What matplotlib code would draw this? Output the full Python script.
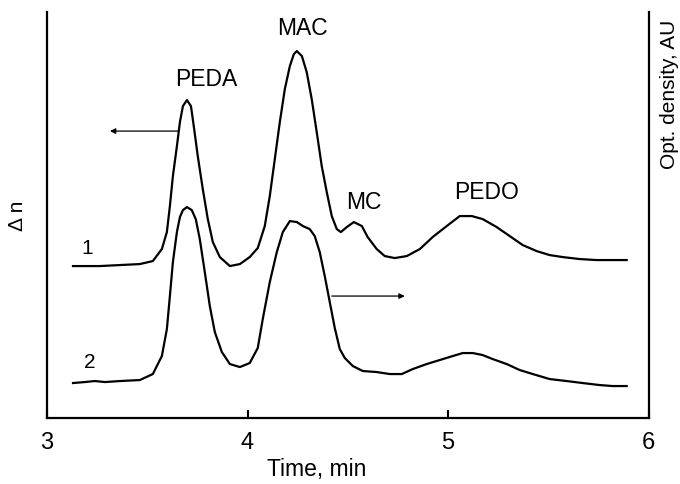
import matplotlib
matplotlib.use("Agg")
import matplotlib.pyplot as plt

plt.rcParams['font.family'] = ['Liberation Sans', 'DejaVu Sans']

# curve 1: refractive index detector (left axis), time in min, signal in arbitrary units
t1 = [3.130, 3.264, 3.364, 3.463, 3.528, 3.573, 3.598, 3.613, 3.628, 3.648,
      3.663, 3.678, 3.698, 3.718, 3.732, 3.752, 3.777, 3.802, 3.827, 3.862,
      3.912, 3.962, 4.011, 4.051, 4.086, 4.111, 4.136, 4.161, 4.186, 4.211,
      4.231, 4.246, 4.271, 4.295, 4.320, 4.345, 4.370, 4.395, 4.420, 4.445,
      4.465, 4.495, 4.530, 4.570, 4.599, 4.644, 4.684, 4.734, 4.794, 4.859,
      4.923, 4.993, 5.058, 5.118, 5.172, 5.242, 5.307, 5.372, 5.441, 5.506,
      5.571, 5.656, 5.740, 5.820, 5.890]
y1 = [152, 152, 153, 154, 157, 169, 186, 212, 242, 272,
      296, 312, 318, 312, 292, 262, 229, 199, 176, 161,
      152, 154, 161, 170, 192, 222, 259, 296, 329, 352,
      364, 367, 362, 346, 319, 286, 252, 226, 202, 189,
      186, 191, 196, 192, 181, 169, 162, 160, 162, 169,
      181, 192, 202, 202, 199, 191, 182, 173, 167, 163,
      161, 159, 158, 158, 158]

# curve 2: UV detector (right axis)
t2 = [3.130, 3.189, 3.239, 3.289, 3.364, 3.463, 3.528, 3.573, 3.598, 3.613,
      3.628, 3.648, 3.663, 3.678, 3.698, 3.722, 3.742, 3.762, 3.787, 3.812,
      3.837, 3.872, 3.912, 3.962, 4.011, 4.051, 4.076, 4.111, 4.146, 4.176,
      4.211, 4.246, 4.276, 4.310, 4.335, 4.360, 4.385, 4.410, 4.435, 4.460,
      4.485, 4.525, 4.575, 4.644, 4.709, 4.769, 4.824, 4.893, 4.958, 5.023,
      5.073, 5.123, 5.172, 5.222, 5.292, 5.357, 5.422, 5.506, 5.591, 5.671,
      5.755, 5.820, 5.890]
y2 = [35, 36, 37, 36, 37, 38, 44, 62, 89, 122,
      156, 186, 201, 208, 211, 208, 199, 179, 146, 112,
      86, 66, 54, 51, 55, 70, 99, 136, 166, 186,
      197, 196, 192, 189, 182, 166, 142, 116, 90, 69,
      60, 52, 47, 46, 44, 44, 49, 54, 58, 62,
      65, 65, 63, 59, 54, 48, 44, 39, 37, 35,
      33, 32, 32]

peak_names = ["PEDA", "MAC", "MC", "PEDO"]
peak_t = [3.796, 4.276, 4.579, 5.192]
peak_h = [340, 391, 217, 227]

fig = plt.figure(figsize=(6.8, 4.85), dpi=100)
ax = fig.add_axes([0.069, 0.136, 0.885, 0.837])

ax.plot(t1, y1, color='black', lw=1.6, solid_joinstyle='round')
ax.plot(t2, y2, color='black', lw=1.6, solid_joinstyle='round')

for name, t, h in zip(peak_names, peak_t, peak_h):
    ax.text(t, h, name, fontsize=16.5, ha='center', va='center')

ax.text(3.199, 171, "1", fontsize=15, ha='center', va='center')
ax.text(3.214, 57, "2", fontsize=15, ha='center', va='center')

# arrows pointing to the axis each curve belongs to
ax.annotate("", xy=(3.314, 287), xytext=(3.653, 287),
            arrowprops=dict(arrowstyle='-|>', color='black', lw=0.9,
                            mutation_scale=8, shrinkA=0, shrinkB=0))
ax.annotate("", xy=(4.784, 122), xytext=(4.420, 122),
            arrowprops=dict(arrowstyle='-|>', color='black', lw=0.9,
                            mutation_scale=8, shrinkA=0, shrinkB=0))

ax.set_xlim(3, 6)
ax.set_ylim(0, 406)
ax.set_xticks([3, 4, 5, 6])
ax.set_yticks([])
ax.tick_params(axis='x', direction='in', length=6, width=1.5, pad=9, labelsize=17)
ax.spines['top'].set_visible(False)
for s in ['left', 'right', 'bottom']:
    ax.spines[s].set_linewidth(1.6)

ax.set_xlabel("Time, min", fontsize=16.5, labelpad=6)
ax.xaxis.set_label_coords(0.448, -0.095)
ax.set_ylabel("Δ n", fontsize=15, labelpad=14)

fig.text(0.985, 0.96, "Opt. density, AU", rotation=90, fontsize=15,
         ha='center', va='top')

fig.savefig("out.png", dpi=100)
